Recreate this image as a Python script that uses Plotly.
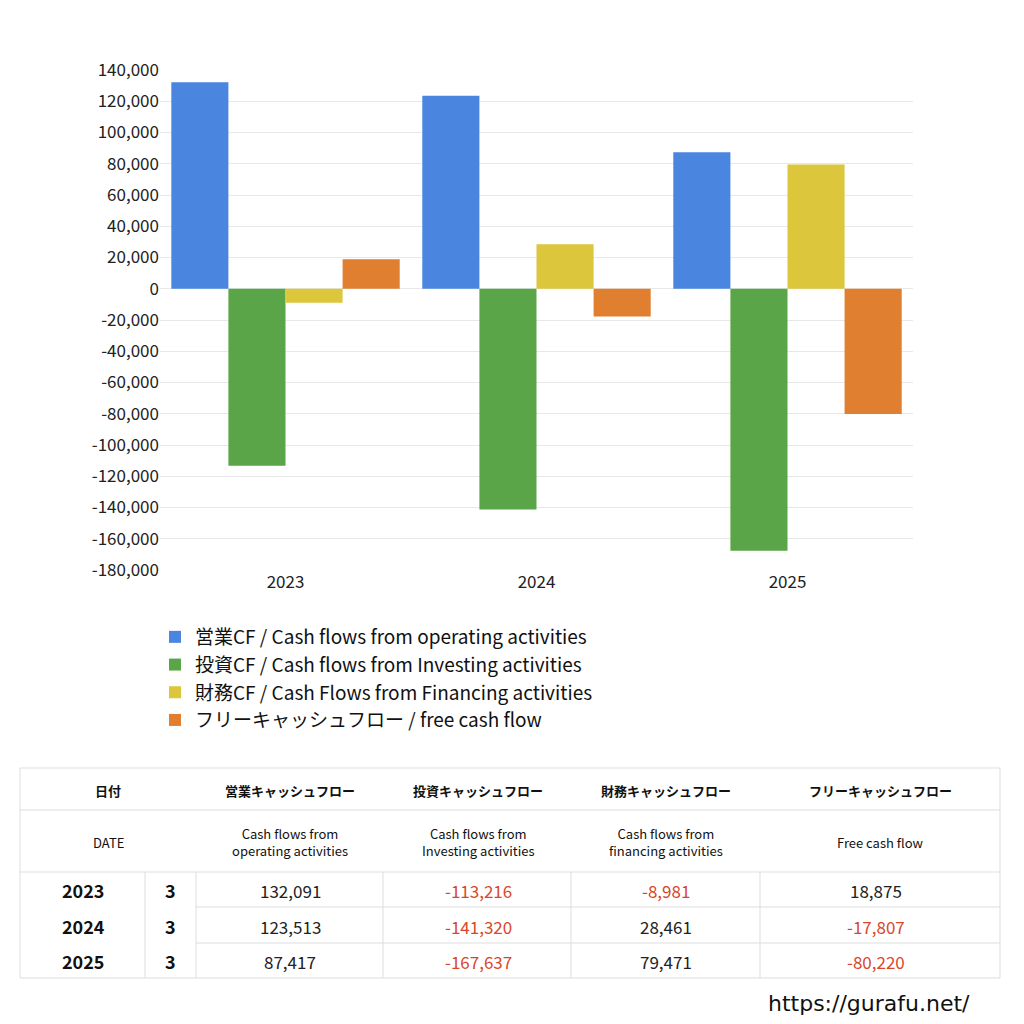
import plotly.graph_objects as go

years = ["2023", "2024", "2025"]
months = ["3", "3", "3"]
operating = [132091, 123513, 87417]
investing = [-113216, -141320, -167637]
financing = [-8981, 28461, 79471]
free_cf = [18875, -17807, -80220]

series_names = [
    "営業CF / Cash flows from operating activities",
    "投資CF / Cash flows from Investing activities",
    "財務CF / Cash Flows from Financing activities",
    "フリーキャッシュフロー / free cash flow",
]
colors = ["#4a86e0", "#5aa548", "#dcc63c", "#e07f30"]
tick_vals = list(range(-180000, 140001, 20000))
tick_text = [f"{v:,}" for v in tick_vals]

head_jp = ["日付", "営業キャッシュフロー", "投資キャッシュフロー", "財務キャッシュフロー", "フリーキャッシュフロー"]
head_en = ["DATE", "Cash flows from<br>operating activities", "Cash flows from<br>Investing activities",
           "Cash flows from<br>financing activities", "Free cash flow"]

FONT = "Noto Sans CJK JP"
OFF = 8  # page body margin
W = 1024 - OFF
L, R, T, B = 160, 913, 70, 570


def px(x):
    return (x - L) / (R - L)


def py(y):
    return (B - y) / (B - T)


fig = go.Figure()
for name, vals, c in zip(series_names, [operating, investing, financing, free_cf], colors):
    fig.add_trace(go.Bar(x=years, y=vals, name=name, marker=dict(color=c, line=dict(width=0))))

shapes = []
annotations = []

# table grid
col_x = [20, 145, 196, 383, 571, 760, 1000]
row_y = [768, 810, 872, 907, 943, 978]
line = dict(color="#dddddd", width=1)
for y in row_y:
    x0 = 20 if y in (768, 810, 872, 978) else 196
    shapes.append(dict(type="line", xref="paper", yref="paper", x0=px(x0), x1=px(1000), y0=py(y), y1=py(y), line=line))
shapes.append(dict(type="line", xref="paper", yref="paper", x0=px(20), x1=px(20), y0=py(768), y1=py(978), line=line))
shapes.append(dict(type="line", xref="paper", yref="paper", x0=px(1000), x1=px(1000), y0=py(768), y1=py(978), line=line))
for x in col_x[1:6]:
    shapes.append(dict(type="line", xref="paper", yref="paper", x0=px(x), x1=px(x), y0=py(872), y1=py(978), line=line))

head_cx = [108, 290, 478, 666, 880]
for cx, jp, en in zip(head_cx, head_jp, head_en):
    annotations.append(dict(x=px(cx), y=py(790), text=f"<b>{jp}</b>", font=dict(size=13, color="#111")))
    annotations.append(dict(x=px(cx), y=py(842), text=en, font=dict(size=13, color="#111")))

red = "#d9472b"
rows_cy = [890, 926, 961]
cols = [operating, investing, financing, free_cf]
num_cx = [290, 478, 666, 876]
for i, cy in enumerate(rows_cy):
    annotations.append(dict(x=px(83), y=py(cy), text=f"<b>{years[i]}</b>", font=dict(size=18, color="#111")))
    annotations.append(dict(x=px(170), y=py(cy), text=f"<b>{months[i]}</b>", font=dict(size=18, color="#111")))
    for cx, col in zip(num_cx, cols):
        v = col[i]
        annotations.append(dict(x=px(cx), y=py(cy), text=f"{v:,}",
                                font=dict(size=17, color=red if v < 0 else "#222")))

annotations.append(dict(x=px(972), y=py(1003), text="https://gurafu.net/", xanchor="right",
                        font=dict(size=22, color="#111", family="DejaVu Sans")))
for a in annotations:
    a.update(xref="paper", yref="paper", showarrow=False, yanchor="middle")
    a.setdefault("xanchor", "center")
    a["font"].setdefault("family", FONT)

fig.update_layout(
    width=W, height=W,
    margin=dict(l=L - OFF, r=1024 - R, t=T - OFF, b=1024 - B),
    paper_bgcolor="white", plot_bgcolor="white",
    font=dict(family=FONT, color="#222"),
    barmode="group", bargap=0.09, bargroupgap=0,
    xaxis=dict(tickfont=dict(size=17), showline=False, ticks=""),
    yaxis=dict(range=[-180000, 140000], tickvals=tick_vals, ticktext=tick_text,
               tickfont=dict(size=17), gridcolor="#e8e8e8", zeroline=True,
               zerolinecolor="#e8e8e8", zerolinewidth=1),
    legend=dict(x=px(155), y=py(618), xanchor="left", yanchor="top",
                font=dict(size=19, color="#111"), tracegroupgap=0, itemwidth=30),
    shapes=shapes, annotations=annotations,
)

fig.write_html("out.html")
